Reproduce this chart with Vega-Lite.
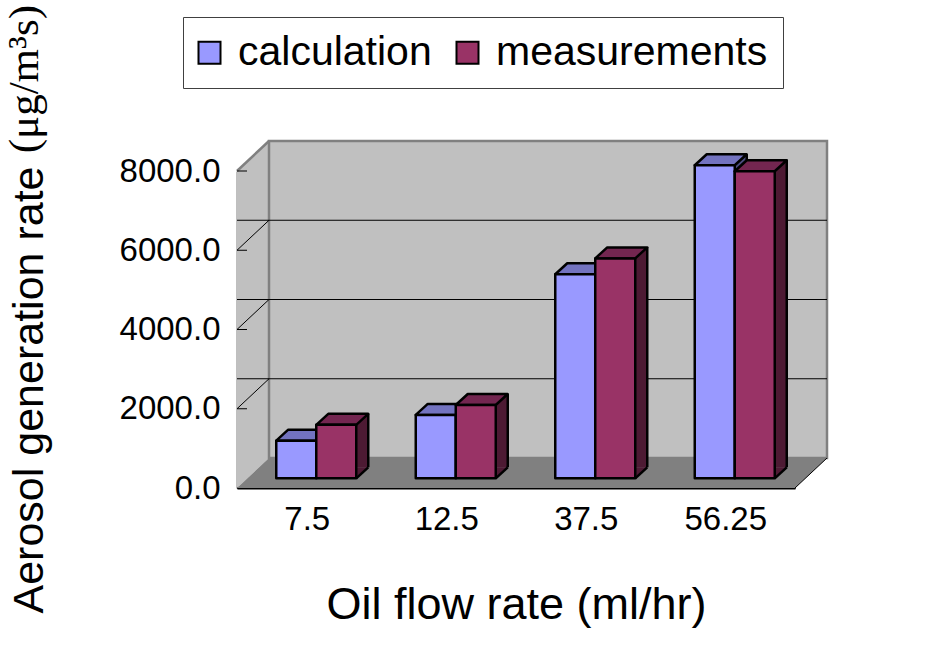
{
  "$schema": "https://vega.github.io/schema/vega-lite/v6.json",
  "width": 558,
  "height": 317,
  "autosize": "none",
  "padding": {"left": 237, "top": 171, "right": 143, "bottom": 159},
  "background": "white",
  "title": {
    "text": "(μg/m³s)", "orient": "left", "anchor": "end", "frame": "group",
    "font": "Liberation Serif", "fontSize": 43, "fontWeight": "normal", "color": "black",
    "baseline": "alphabetic", "dx": 166, "dy": 43, "offset": -30
  },
  "datasets": {
    "rates": [
      {"flow": "7.5", "series": "calculation", "rate": 950},
      {"flow": "7.5", "series": "measurements", "rate": 1350},
      {"flow": "12.5", "series": "calculation", "rate": 1600},
      {"flow": "12.5", "series": "measurements", "rate": 1850},
      {"flow": "37.5", "series": "calculation", "rate": 5150},
      {"flow": "37.5", "series": "measurements", "rate": 5550},
      {"flow": "56.25", "series": "calculation", "rate": 7900},
      {"flow": "56.25", "series": "measurements", "rate": 7750}
    ],
    "frame": [{"part": "wall"}],
    "levels": [{"level": 2000}, {"level": 4000}, {"level": 6000}],
    "top": [{"level": 8000}]
  },
  "encoding": {
    "x": {
      "field": "flow", "type": "nominal", "sort": ["7.5", "12.5", "37.5", "56.25"],
      "scale": {"paddingInner": 0, "paddingOuter": 0},
      "axis": {
        "title": "Oil flow rate (ml/hr)", "titleFontSize": 45, "titleY": 130, "titleBaseline": "alphabetic",
        "labelFontSize": 33, "labelAngle": 0, "labelPadding": 25,
        "tickBand": "extent", "tickSize": -10, "tickColor": "black", "tickWidth": 1,
        "domainColor": "black", "domainWidth": 2
      }
    }
  },
  "layer": [
    {
      "description": "left side wall of the 3-D plot box; also carries the value axis",
      "data": {"name": "frame"},
      "mark": {"type": "point", "shape": "M 0 0 L 0 -317 L 32 -347 L 32 -30 Z", "size": 4, "filled": true, "color": "#c0c0c0", "opacity": 1, "strokeWidth": 0},
      "encoding": {
        "x": {"value": 0},
        "y": {
          "datum": 0, "type": "quantitative",
          "scale": {"domain": [0, 8000], "nice": false, "zero": true},
          "axis": {
            "title": "Aerosol generation rate",
            "values": [0, 2000, 4000, 6000, 8000], "format": ".1f",
            "labelFontSize": 33, "labelPadding": 17, "ticks": false,
            "domainColor": "black", "domainWidth": 1.5,
            "titleFontSize": 43, "titleX": -195, "titleY": 218.5, "titleAlign": "center", "titleBaseline": "alphabetic", "titleLimit": 1000
          }
        }
      }
    },
    {
      "description": "back wall",
      "data": {"name": "frame"},
      "mark": {"type": "rect", "fill": "#c0c0c0", "stroke": "#808080", "strokeWidth": 2.5, "xOffset": 32, "x2Offset": 32, "yOffset": -30, "y2Offset": -30},
      "encoding": {"x": {"value": 0}, "x2": {"value": "width"}, "y": {"datum": 0, "type": "quantitative"}, "y2": {"datum": 8000}}
    },
    {
      "description": "floor",
      "data": {"name": "frame"},
      "mark": {"type": "point", "shape": "M 0 0 L 558 0 L 590 -30 L 32 -30 Z", "size": 4, "filled": true, "color": "#808080", "opacity": 1, "strokeWidth": 0},
      "encoding": {"x": {"value": 0}, "y": {"datum": 0, "type": "quantitative"}}
    },
    {
      "data": {"name": "frame"},
      "mark": {"type": "point", "shape": "M 558 0 L 590 -30", "size": 4, "filled": false, "stroke": "black", "strokeWidth": 1, "opacity": 1},
      "encoding": {"x": {"value": 0}, "y": {"datum": 0, "type": "quantitative"}}
    },
    {
      "description": "gridlines on the back wall",
      "data": {"name": "levels"},
      "mark": {"type": "rule", "stroke": "black", "strokeWidth": 1, "xOffset": 32, "x2Offset": 32, "yOffset": -30, "y2Offset": -30},
      "encoding": {"x": null, "y": {"field": "level", "type": "quantitative"}}
    },
    {
      "description": "inward tick plus its run along the side wall",
      "data": {"name": "levels"},
      "mark": {"type": "point", "shape": "M 10 0 L 0 0 L 32 -30", "size": 4, "filled": false, "stroke": "black", "strokeWidth": 1, "opacity": 1},
      "encoding": {"x": {"value": 0}, "y": {"field": "level", "type": "quantitative"}}
    },
    {
      "data": {"name": "top"},
      "mark": {"type": "point", "shape": "M 0 0 L 32 -30", "size": 4, "filled": false, "stroke": "#808080", "strokeWidth": 2.5, "opacity": 1},
      "encoding": {"x": {"value": 0}, "y": {"field": "level", "type": "quantitative"}}
    },
    {
      "data": {"name": "top"},
      "mark": {"type": "point", "shape": "M 10 0 L 0 0", "size": 4, "filled": false, "stroke": "black", "strokeWidth": 1, "opacity": 1},
      "encoding": {"x": {"value": 0}, "y": {"field": "level", "type": "quantitative"}}
    },
    {
      "description": "calculation columns: side, edges, top face, front face",
      "data": {"name": "rates"},
      "transform": [{"filter": "datum.series === 'calculation'"}],
      "layer": [
        {
          "mark": {"type": "bar", "width": 40, "fill": "#4d4d80", "xOffset": 1.5, "x2Offset": 1.5, "yOffset": -20.7, "y2Offset": -20.7},
          "encoding": {"y": {"field": "rate", "type": "quantitative"}, "y2": {"datum": 0}}
        },
        {
          "mark": {"type": "point", "shape": "M 0 0 L 0 -11 L 12 -11 Z", "size": 4, "filled": true, "color": "#4d4d80", "opacity": 1, "strokeWidth": 0, "xOffset": 9.5, "yOffset": -9.7},
          "encoding": {"y": {"datum": 0, "type": "quantitative"}}
        },
        {
          "mark": {"type": "point", "shape": "M 0 0 L 12 -11", "size": 4, "filled": false, "opacity": 1, "stroke": "black", "strokeWidth": 2.5, "xOffset": 9.5, "yOffset": -9.7},
          "encoding": {"y": {"datum": 0, "type": "quantitative"}}
        },
        {
          "mark": {"type": "rule", "stroke": "black", "strokeWidth": 2.5, "xOffset": 21.5, "x2Offset": 21.5, "yOffset": -20.7, "y2Offset": -20.7},
          "encoding": {"y": {"field": "rate", "type": "quantitative"}, "y2": {"datum": 0}}
        },
        {
          "mark": {"type": "point", "shape": "M -20 0 L 20 0 L 32 -11 L -8 -11 Z", "size": 4, "filled": true, "color": "#7373c0", "opacity": 1, "stroke": "black", "strokeWidth": 2.5, "strokeJoin": "round", "xOffset": -10.5, "yOffset": -9.7},
          "encoding": {"y": {"field": "rate", "type": "quantitative"}}
        },
        {
          "mark": {"type": "bar", "width": 40, "stroke": "black", "strokeWidth": 2.5, "strokeJoin": "round", "xOffset": -10.5, "x2Offset": -10.5, "yOffset": -9.7, "y2Offset": -9.7},
          "encoding": {
            "y": {"field": "rate", "type": "quantitative"},
            "y2": {"datum": 0},
            "color": {"field": "series", "type": "nominal"}
          }
        }
      ]
    },
    {
      "description": "measurements columns: side, edges, top face, front face",
      "data": {"name": "rates"},
      "transform": [{"filter": "datum.series === 'measurements'"}],
      "layer": [
        {
          "mark": {"type": "bar", "width": 40, "fill": "#4d1a33", "xOffset": 41.5, "x2Offset": 41.5, "yOffset": -20.7, "y2Offset": -20.7},
          "encoding": {"y": {"field": "rate", "type": "quantitative"}, "y2": {"datum": 0}}
        },
        {
          "mark": {"type": "point", "shape": "M 0 0 L 0 -11 L 12 -11 Z", "size": 4, "filled": true, "color": "#4d1a33", "opacity": 1, "strokeWidth": 0, "xOffset": 49.5, "yOffset": -9.7},
          "encoding": {"y": {"datum": 0, "type": "quantitative"}}
        },
        {
          "mark": {"type": "point", "shape": "M 0 0 L 12 -11", "size": 4, "filled": false, "opacity": 1, "stroke": "black", "strokeWidth": 2.5, "xOffset": 49.5, "yOffset": -9.7},
          "encoding": {"y": {"datum": 0, "type": "quantitative"}}
        },
        {
          "mark": {"type": "rule", "stroke": "black", "strokeWidth": 2.5, "xOffset": 61.5, "x2Offset": 61.5, "yOffset": -20.7, "y2Offset": -20.7},
          "encoding": {"y": {"field": "rate", "type": "quantitative"}, "y2": {"datum": 0}}
        },
        {
          "mark": {"type": "point", "shape": "M -20 0 L 20 0 L 32 -11 L -8 -11 Z", "size": 4, "filled": true, "color": "#732650", "opacity": 1, "stroke": "black", "strokeWidth": 2.5, "strokeJoin": "round", "xOffset": 29.5, "yOffset": -9.7},
          "encoding": {"y": {"field": "rate", "type": "quantitative"}}
        },
        {
          "mark": {"type": "bar", "width": 40, "stroke": "black", "strokeWidth": 2.5, "strokeJoin": "round", "xOffset": 29.5, "x2Offset": 29.5, "yOffset": -9.7, "y2Offset": -9.7},
          "encoding": {
            "y": {"field": "rate", "type": "quantitative"},
            "y2": {"datum": 0},
            "color": {"field": "series", "type": "nominal"}
          }
        }
      ]
    }
  ],
  "config": {
    "font": "Liberation Sans",
    "view": {"stroke": null},
    "axis": {"labelColor": "black", "titleColor": "black", "titleFontWeight": "normal", "grid": false},
    "range": {"category": ["#9999ff", "#993366"]},
    "legend": {
      "orient": "none", "legendX": -54, "legendY": -154, "direction": "horizontal", "title": null,
      "symbolType": "square", "symbolSize": 484, "symbolStrokeColor": "black", "symbolStrokeWidth": 2, "symbolOpacity": 1, "symbolOffset": -9,
      "labelFontSize": 41, "labelFont": "Liberation Sans", "labelColor": "black", "labelOffset": 8, "labelLimit": 400,
      "columnPadding": 20, "padding": 15, "strokeColor": "#404040", "fillColor": "white"
    }
  }
}
